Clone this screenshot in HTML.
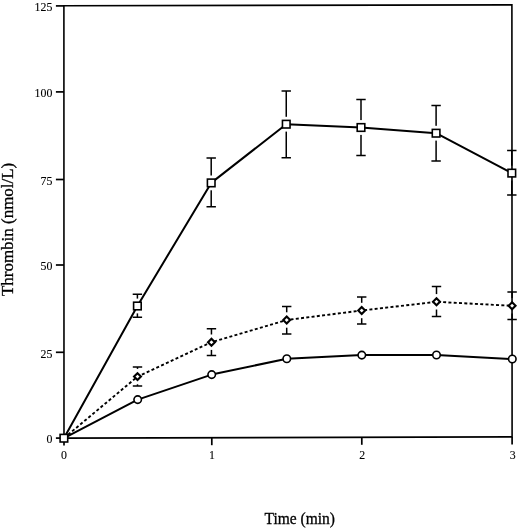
<!DOCTYPE html>
<html><head><meta charset="utf-8"><title>Thrombin</title>
<style>
html,body{margin:0;padding:0;background:#fff;}
svg{display:block}
text{font-family:"Liberation Serif",serif;fill:#000;stroke:#000;stroke-width:0.12}
</style></head><body>
<svg width="520" height="530" viewBox="0 0 520 530">
<rect width="520" height="530" fill="#fff"/>

<path d="M137.4 294.2V317.3M132.70 294.2H142.10M132.70 317.3H142.10" stroke="#000" stroke-width="1.5" fill="none"/>
<rect x="135.4" y="298.60" width="4" height="14.80" fill="#fff"/>
<path d="M211.2 158.1V206.7M206.50 158.1H215.90M206.50 206.7H215.90" stroke="#000" stroke-width="1.5" fill="none"/>
<rect x="209.2" y="175.50" width="4" height="14.80" fill="#fff"/>
<path d="M286.25 91V157.8M281.55 91H290.95M281.55 157.8H290.95" stroke="#000" stroke-width="1.5" fill="none"/>
<rect x="284.25" y="116.80" width="4" height="14.80" fill="#fff"/>
<path d="M361 99.4V155.6M356.30 99.4H365.70M356.30 155.6H365.70" stroke="#000" stroke-width="1.5" fill="none"/>
<rect x="359" y="120.10" width="4" height="14.80" fill="#fff"/>
<path d="M436.1 105.6V161.1M431.40 105.6H440.80M431.40 161.1H440.80" stroke="#000" stroke-width="1.5" fill="none"/>
<rect x="434.1" y="125.80" width="4" height="14.80" fill="#fff"/>
<path d="M511.8 150.6V195.1M507.10 150.6H516.50M507.10 195.1H516.50" stroke="#000" stroke-width="1.5" fill="none"/>
<rect x="509.8" y="165.70" width="4" height="14.80" fill="#fff"/>
<path d="M137.5 367.1V386M132.80 367.1H142.20M132.80 386H142.20" stroke="#000" stroke-width="1.5" fill="none"/>
<rect x="135.5" y="368.90" width="4" height="15.40" fill="#fff"/>
<path d="M211.45 328.7V355.5M206.75 328.7H216.15M206.75 355.5H216.15" stroke="#000" stroke-width="1.5" fill="none"/>
<rect x="209.45" y="334.50" width="4" height="15.40" fill="#fff"/>
<path d="M286.7 306.6V334.1M282.00 306.6H291.40M282.00 334.1H291.40" stroke="#000" stroke-width="1.5" fill="none"/>
<rect x="284.7" y="312.30" width="4" height="15.40" fill="#fff"/>
<path d="M361.7 296.9V324.1M357.00 296.9H366.40M357.00 324.1H366.40" stroke="#000" stroke-width="1.5" fill="none"/>
<rect x="359.7" y="302.80" width="4" height="15.40" fill="#fff"/>
<path d="M436.5 286.6V316.6M431.80 286.6H441.20M431.80 316.6H441.20" stroke="#000" stroke-width="1.5" fill="none"/>
<rect x="434.5" y="294.10" width="4" height="15.40" fill="#fff"/>
<path d="M512.1 291.9V319.4M507.40 291.9H516.80M507.40 319.4H516.80" stroke="#000" stroke-width="1.5" fill="none"/>
<rect x="510.1" y="298.10" width="4" height="15.40" fill="#fff"/>
<g stroke="#000" fill="none" stroke-linecap="butt" stroke-width="1.6">
<path d="M63.9 5.8L511.9 4.9L512.1 436.9L64 438.1Z"/>
<line x1="55.9" x2="64" y1="438.1" y2="438.1" stroke-width="1.7"/>
<line x1="55.9" x2="64" y1="352.3" y2="352.3" stroke-width="1.7"/>
<line x1="55.9" x2="64" y1="265.0" y2="265.0" stroke-width="1.7"/>
<line x1="55.9" x2="64" y1="179.5" y2="179.5" stroke-width="1.7"/>
<line x1="55.9" x2="64" y1="91.9" y2="91.9" stroke-width="1.7"/>
<line x1="55.9" x2="64" y1="5.9" y2="5.9" stroke-width="1.7"/>
<line x1="64.0" x2="64.0" y1="438.1" y2="445.6" stroke-width="1.7"/>
<line x1="211.8" x2="211.8" y1="437.7" y2="445.2" stroke-width="1.7"/>
<line x1="361.8" x2="361.8" y1="437.3" y2="444.8" stroke-width="1.7"/>
<line x1="512.1" x2="512.1" y1="436.9" y2="444.4" stroke-width="1.7"/>
</g>
<polyline fill="none" stroke="#000" stroke-width="2" stroke-linejoin="round" points="63.9,438.2 137.4,306 211.2,182.9 286.25,124.2 361,127.5 436.1,133.2 511.8,173.1"/>
<polyline fill="none" stroke="#000" stroke-width="1.9" stroke-dasharray="3 2.3" points="64,438.1 137.5,376.6 211.45,342.2 286.7,320 361.7,310.5 436.5,301.8 512.1,305.8"/>
<polyline fill="none" stroke="#000" stroke-width="2" stroke-linejoin="round" points="64,438.1 137.7,399.6 211.7,374.6 286.8,358.7 361.8,355.1 436.5,355 512.3,359"/>
<circle cx="137.7" cy="399.6" r="3.75" fill="#fff" stroke="#000" stroke-width="1.6"/>
<circle cx="211.7" cy="374.6" r="3.75" fill="#fff" stroke="#000" stroke-width="1.6"/>
<circle cx="286.8" cy="358.7" r="3.75" fill="#fff" stroke="#000" stroke-width="1.6"/>
<circle cx="361.8" cy="355.1" r="3.75" fill="#fff" stroke="#000" stroke-width="1.6"/>
<circle cx="436.5" cy="355" r="3.75" fill="#fff" stroke="#000" stroke-width="1.6"/>
<circle cx="512.3" cy="359" r="3.75" fill="#fff" stroke="#000" stroke-width="1.6"/>
<path d="M137.5 373.15000000000003L140.95 376.6L137.5 380.05L134.05 376.6Z" fill="#fff" stroke="#000" stroke-width="2.1"/>
<path d="M211.45 338.75L214.89999999999998 342.2L211.45 345.65L208.0 342.2Z" fill="#fff" stroke="#000" stroke-width="2.1"/>
<path d="M286.7 316.55L290.15 320L286.7 323.45L283.25 320Z" fill="#fff" stroke="#000" stroke-width="2.1"/>
<path d="M361.7 307.05L365.15 310.5L361.7 313.95L358.25 310.5Z" fill="#fff" stroke="#000" stroke-width="2.1"/>
<path d="M436.5 298.35L439.95 301.8L436.5 305.25L433.05 301.8Z" fill="#fff" stroke="#000" stroke-width="2.1"/>
<path d="M512.1 302.35L515.5500000000001 305.8L512.1 309.25L508.65000000000003 305.8Z" fill="#fff" stroke="#000" stroke-width="2.1"/>
<rect x="60.10" y="434.40" width="7.6" height="7.6" fill="#fff" stroke="#000" stroke-width="1.6"/>
<rect x="133.60" y="302.20" width="7.6" height="7.6" fill="#fff" stroke="#000" stroke-width="1.6"/>
<rect x="207.40" y="179.10" width="7.6" height="7.6" fill="#fff" stroke="#000" stroke-width="1.6"/>
<rect x="282.45" y="120.40" width="7.6" height="7.6" fill="#fff" stroke="#000" stroke-width="1.6"/>
<rect x="357.20" y="123.70" width="7.6" height="7.6" fill="#fff" stroke="#000" stroke-width="1.6"/>
<rect x="432.30" y="129.40" width="7.6" height="7.6" fill="#fff" stroke="#000" stroke-width="1.6"/>
<rect x="508.00" y="169.30" width="7.6" height="7.6" fill="#fff" stroke="#000" stroke-width="1.6"/>
<text transform="translate(52.4,443.1) scale(0.88,1)" font-size="13.5" text-anchor="end">0</text>
<text transform="translate(52.4,357.6) scale(0.88,1)" font-size="13.5" text-anchor="end">25</text>
<text transform="translate(52.4,270.2) scale(0.88,1)" font-size="13.5" text-anchor="end">50</text>
<text transform="translate(52.4,184.5) scale(0.88,1)" font-size="13.5" text-anchor="end">75</text>
<text transform="translate(52.4,96.8) scale(0.88,1)" font-size="13.5" text-anchor="end">100</text>
<text transform="translate(52.4,11.1) scale(0.88,1)" font-size="13.5" text-anchor="end">125</text>
<text transform="translate(64,458.8) scale(0.88,1)" font-size="13.5" text-anchor="middle">0</text>
<text transform="translate(212,458.8) scale(0.88,1)" font-size="13.5" text-anchor="middle">1</text>
<text transform="translate(362.3,458.8) scale(0.88,1)" font-size="13.5" text-anchor="middle">2</text>
<text transform="translate(512.7,458.8) scale(0.88,1)" font-size="13.5" text-anchor="middle">3</text>
<text x="264.6" y="524.1" font-size="16" style="stroke-width:0.3" textLength="70.4" lengthAdjust="spacingAndGlyphs">Time (min)</text>
<text transform="translate(12.8,296) rotate(-90)" font-size="16" style="stroke-width:0.3" textLength="133.2" lengthAdjust="spacingAndGlyphs">Thrombin (nmol/L)</text>
</svg></body></html>
